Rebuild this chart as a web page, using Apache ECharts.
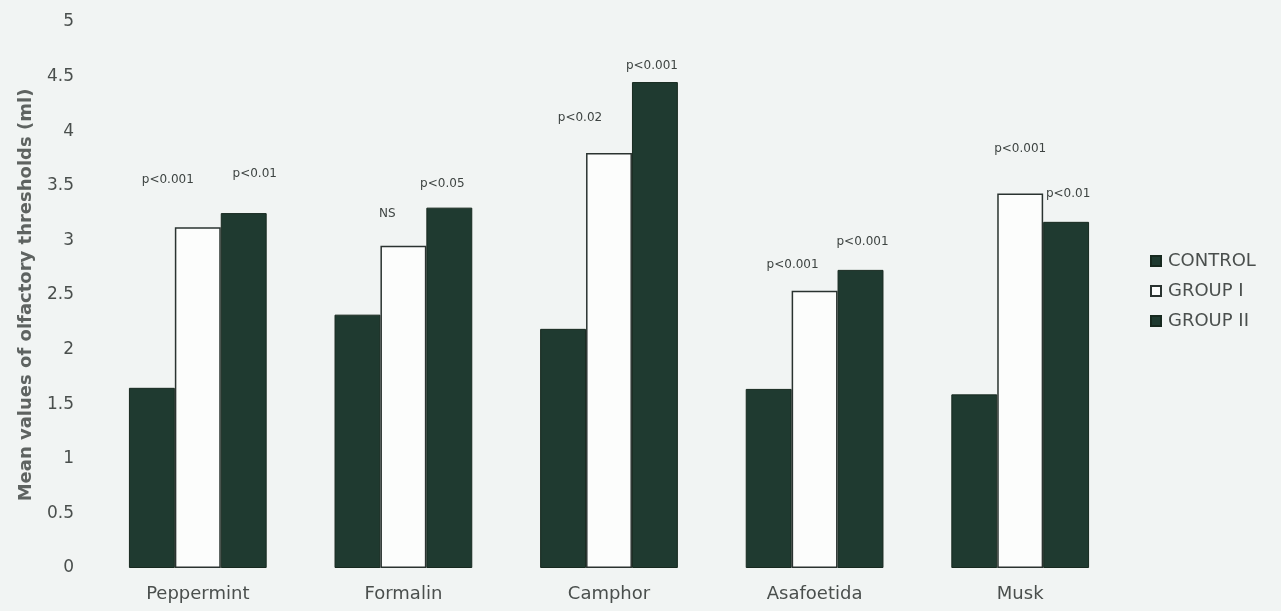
<!DOCTYPE html>
<html>
<head>
<meta charset="utf-8">
<script src="https://cdn.jsdelivr.net/npm/echarts@6/dist/echarts.min.js"></script>
<style>
  html, body { margin: 0; padding: 0; background: #f1f4f3; }
  #chart { width: 1281px; height: 611px; }
</style>
</head>
<body>
<div id="chart"></div>
<script>
// Odorants tested
const categories = ['Peppermint', 'Formalin', 'Camphor', 'Asafoetida', 'Musk'];

// Mean olfactory thresholds (ml) per group
const controlValues = [1.65, 2.32, 2.19, 1.64, 1.59];
const group1Values  = [3.12, 2.95, 3.80, 2.54, 3.43];
const group2Values  = [3.25, 3.30, 4.45, 2.73, 3.17];

// Significance versus control
const group1Sig = ['p<0.001', 'NS', 'p<0.02', 'p<0.001', 'p<0.001'];
const group2Sig = ['p<0.01', 'p<0.05', 'p<0.001', 'p<0.001', 'p<0.01'];

const yTicks = [0, 0.5, 1, 1.5, 2, 2.5, 3, 3.5, 4, 4.5, 5];

const dark = '#1f3a30';
const textColor = '#4a4f4d';
const fontFamily = '"DejaVu Sans", Verdana, sans-serif';

// Placement of the significance notes: [x shift, gap above bar]
const g1LabelShift = [[-30, 41], [-16, 26], [-29, 29], [-22, 20], [0, 39]];
const g2LabelShift = [[11, 33], [-7, 18], [-3, 10], [2, 22], [2, 22]];

function sigData(values, notes, shift) {
  return values.map((v, i) => ({
    value: v,
    label: {
      show: true,
      formatter: notes[i],
      position: 'top',
      distance: shift[i][1],
      offset: [shift[i][0], 0]
    }
  }));
}

const chart = echarts.init(document.getElementById('chart'), null, { renderer: 'canvas' });

chart.setOption({
  backgroundColor: '#f1f4f3',
  animation: false,
  textStyle: { fontFamily },
  grid: { left: 95, right: 158, top: 22, bottom: 43 },
  legend: {
    orient: 'vertical',
    left: 1145,
    top: 247,
    itemWidth: 10,
    itemHeight: 10,
    itemGap: 12,
    icon: 'rect',
    textStyle: { fontSize: 18, color: textColor, fontFamily, padding: [0, 0, 0, 2] },
    data: ['CONTROL', 'GROUP I', 'GROUP II']
  },
  xAxis: {
    type: 'category',
    data: categories,
    axisLine: { show: false },
    axisTick: { show: false },
    axisLabel: { fontSize: 18, color: textColor, margin: 17, fontFamily }
  },
  yAxis: {
    type: 'value',
    min: 0,
    max: 5,
    interval: 0.5,
    name: 'Mean values of olfactory thresholds (ml)',
    nameLocation: 'middle',
    nameGap: 60,
    nameTextStyle: { fontSize: 18, fontWeight: 'bold', color: '#5e6361', fontFamily },
    axisLine: { show: false },
    axisTick: { show: false },
    splitLine: { show: false },
    axisLabel: {
      fontSize: 17,
      color: textColor,
      margin: 21,
      fontFamily,
      formatter: v => (yTicks.includes(v) ? String(v) : '')
    }
  },
  series: [
    {
      name: 'CONTROL',
      type: 'bar',
      data: controlValues,
      barGap: '0%',
      barCategoryGap: '33%',
      itemStyle: { color: dark, borderColor: '#17291f', borderWidth: 1 }
    },
    {
      name: 'GROUP I',
      type: 'bar',
      data: sigData(group1Values, group1Sig, g1LabelShift),
      barGap: '0%',
      barCategoryGap: '33%',
      itemStyle: { color: '#fcfdfc', borderColor: '#2a3330', borderWidth: 1.5 },
      label: { fontSize: 12, color: '#3e4442', fontFamily }
    },
    {
      name: 'GROUP II',
      type: 'bar',
      data: sigData(group2Values, group2Sig, g2LabelShift),
      barGap: '0%',
      barCategoryGap: '33%',
      itemStyle: { color: dark, borderColor: '#17291f', borderWidth: 1 },
      label: { fontSize: 12, color: '#3e4442', fontFamily }
    }
  ]
});
</script>
</body>
</html>
